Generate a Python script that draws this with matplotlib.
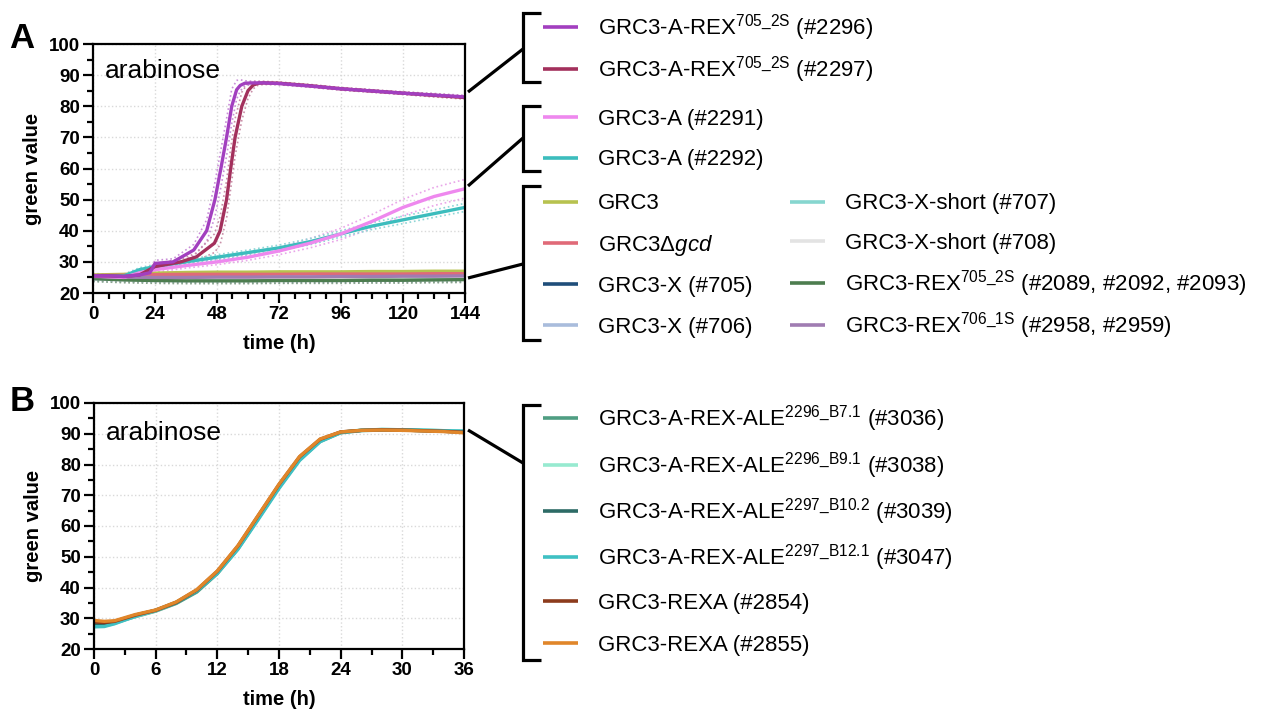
import numpy as np
import matplotlib
matplotlib.use("Agg")
import matplotlib.pyplot as plt
from matplotlib.lines import Line2D
from matplotlib.ticker import MultipleLocator

plt.rcParams['font.family'] = ['Liberation Sans', 'DejaVu Sans']
plt.rcParams['mathtext.fontset'] = 'custom'
plt.rcParams['mathtext.rm'] = 'Liberation Sans'
plt.rcParams['mathtext.it'] = 'Liberation Sans:italic'
plt.rcParams['mathtext.bf'] = 'Liberation Sans:bold'

W, H = 1263, 716

# ---------------- panel A data (time in h, green value) ----------------
t_fast = [0, 6, 12, 18, 22, 24, 31, 39, 44, 47.2, 49.5, 51.7, 53.7, 55.6, 57, 58.8, 62, 66, 72, 84, 96, 108, 120, 132, 144]
a2296 = [25.5, 25.5, 25.3, 25.8, 26.5, 29.5, 30.0, 33.8, 40.0, 50.0, 60.0, 70.0, 80.0, 85.3, 86.7, 87.4, 87.5, 87.5, 87.3, 86.5, 85.6, 84.9, 84.2, 83.6, 83.0]
sd2296 = [0.5, 0.5, 0.5, 0.5, 0.8, 1.0, 1.0, 1.8, 3.5, 5.5, 6.0, 6.0, 5.5, 3.0, 1.8, 0.8, 0.5, 0.4, 0.4, 0.4, 0.4, 0.4, 0.4, 0.5, 0.5]

t_slow = [0, 6, 12, 18, 24, 34, 40, 47, 49.2, 51.7, 53.3, 55, 57.6, 60, 62, 64, 66, 72, 84, 96, 108, 120, 132, 144]
a2297 = [25.5, 25.5, 25.3, 25.8, 28.5, 30.0, 31.6, 36.0, 40.0, 50.0, 60.0, 70.0, 80.0, 85.0, 86.8, 87.4, 87.5, 87.4, 86.6, 85.6, 84.9, 84.2, 83.5, 82.8]
sd2297 = [0.5, 0.5, 0.5, 0.5, 0.8, 0.9, 1.2, 3.0, 4.5, 6.0, 6.5, 6.0, 4.5, 2.5, 1.2, 0.6, 0.5, 0.4, 0.4, 0.4, 0.4, 0.4, 0.5, 0.5]

t_lin = [0, 6, 12, 18, 24, 36, 48, 60, 72, 84, 96, 108, 120, 132, 144]
a2291 = [25.5, 25.2, 25.0, 26.5, 27.5, 28.8, 30.0, 31.5, 33.5, 36.0, 39.0, 43.0, 47.5, 51.0, 53.5]
sd2291 = [0.8, 0.8, 0.8, 0.8, 0.8, 0.8, 0.9, 1.0, 1.2, 1.5, 1.8, 2.2, 2.6, 2.9, 3.0]
a2292 = [25.5, 25.5, 25.5, 27.5, 28.5, 30.0, 31.5, 33.0, 34.5, 36.5, 39.0, 41.5, 43.5, 45.5, 47.5]
sd2292 = [0.6, 0.6, 0.6, 0.6, 0.7, 0.7, 0.8, 0.8, 0.9, 1.0, 1.0, 1.1, 1.2, 1.2, 1.3]

t_flat = [0, 12, 24, 36, 48, 60, 72, 84, 96, 108, 120, 132, 144]
grc3 = [25.8, 26.0, 26.4, 26.6, 26.7, 26.7, 26.8, 26.8, 26.8, 26.9, 26.9, 27.0, 27.0]
grc3_gcd = [25.6, 25.7, 25.9, 26.0, 26.0, 26.0, 26.0, 26.1, 26.1, 26.1, 26.1, 26.2, 26.2]
x705 = [24.8, 24.5, 24.3, 24.2, 24.2, 24.1, 24.1, 24.2, 24.2, 24.3, 24.3, 24.4, 24.5]
x706 = [24.6, 24.4, 24.5, 24.6, 24.5, 24.6, 24.6, 24.7, 24.7, 24.8, 24.8, 24.9, 25.0]
xs707 = [25.2, 25.0, 24.9, 24.8, 24.8, 24.8, 24.9, 24.9, 25.0, 25.0, 25.1, 25.1, 25.2]
xs708 = [25.0, 24.9, 24.8, 24.8, 24.9, 24.9, 25.0, 25.0, 25.0, 25.1, 25.1, 25.2, 25.2]
rex705 = [24.6, 24.2, 24.0, 23.9, 23.9, 23.9, 24.0, 24.0, 24.0, 24.1, 24.1, 24.2, 24.3]
rex706 = [25.3, 25.1, 25.0, 25.0, 25.1, 25.1, 25.2, 25.2, 25.3, 25.3, 25.4, 25.4, 25.5]

# ---------------- panel B data ----------------
tB = [0, 1, 2, 3, 4, 6, 8, 10, 12, 14, 16, 18, 20, 22, 24, 26, 28, 30, 32, 34, 36]
b3036 = [28.0, 27.8, 28.5, 29.5, 30.5, 32.3, 34.8, 38.5, 44.5, 52.5, 62.5, 72.5, 81.5, 87.5, 90.3, 91.0, 91.2, 91.2, 91.0, 90.8, 90.6]
b3038 = [27.5, 27.5, 28.3, 29.5, 30.6, 32.5, 35.0, 38.8, 44.8, 52.8, 62.8, 72.8, 81.8, 87.8, 90.5, 91.2, 91.4, 91.3, 91.2, 91.0, 90.8]
b3039 = [28.3, 28.0, 28.7, 29.8, 31.0, 32.6, 35.0, 38.8, 44.8, 53.0, 63.0, 73.0, 82.0, 88.0, 90.5, 91.1, 91.3, 91.2, 91.0, 90.8, 90.6]
b3047 = [27.2, 27.3, 28.2, 29.4, 30.6, 32.6, 35.2, 38.9, 44.6, 52.4, 62.2, 72.2, 81.3, 87.4, 90.4, 91.1, 91.4, 91.3, 91.2, 91.0, 90.9]
b2854 = [28.8, 28.6, 29.0, 30.0, 31.0, 32.6, 35.2, 39.2, 45.3, 53.5, 63.5, 73.5, 82.5, 88.2, 90.6, 91.1, 91.3, 91.2, 91.0, 90.8, 90.5]
b2855 = [29.3, 29.0, 29.2, 30.2, 31.2, 32.7, 35.3, 39.3, 45.4, 53.6, 63.6, 73.6, 82.6, 88.3, 90.6, 91.1, 91.2, 91.1, 90.9, 90.7, 90.3]

# ---------------- legend labels / colours ----------------
labels_A1 = [r'GRC3-A-REX$^{\mathregular{705\_2S}}$ (#2296)', r'GRC3-A-REX$^{\mathregular{705\_2S}}$ (#2297)']
colors_A1 = ['#a23fbf', '#a3305c']
labels_A2 = ['GRC3-A (#2291)', 'GRC3-A (#2292)']
colors_A2 = ['#ee88ee', '#3cbdbd']
labels_A3a = ['GRC3', r'GRC3Δ$\mathit{gcd}$', 'GRC3-X (#705)', 'GRC3-X (#706)']
colors_A3a = ['#b7c24f', '#e06a78', '#1f4e7a', '#a9bcdc']
labels_A3b = ['GRC3-X-short (#707)', 'GRC3-X-short (#708)',
              r'GRC3-REX$^{\mathregular{705\_2S}}$ (#2089, #2092, #2093)',
              r'GRC3-REX$^{\mathregular{706\_1S}}$ (#2958, #2959)']
colors_A3b = ['#86d6cf', '#e3e3e3', '#4d7d4f', '#a07cb2']
labels_B = [r'GRC3-A-REX-ALE$^{\mathregular{2296\_B7.1}}$ (#3036)',
            r'GRC3-A-REX-ALE$^{\mathregular{2296\_B9.1}}$ (#3038)',
            r'GRC3-A-REX-ALE$^{\mathregular{2297\_B10.2}}$ (#3039)',
            r'GRC3-A-REX-ALE$^{\mathregular{2297\_B12.1}}$ (#3047)',
            'GRC3-REXA (#2854)', 'GRC3-REXA (#2855)']
colors_B = ['#4f9e82', '#97ead0', '#2d6b66', '#3fc0c3', '#8c3b1c', '#e0862a']


def fx(x):
    return x / W


def fy(y):
    return 1 - y / H


fig = plt.figure(figsize=(W / 100, H / 100), dpi=100)
axA = fig.add_axes([fx(93), fy(293), (465 - 93) / W, (293 - 44) / H])
axB = fig.add_axes([fx(94), fy(649), (464 - 94) / W, (649 - 403) / H])


def style(ax, xmax, xmajor, xminor):
    ax.set_xlim(0, xmax)
    ax.set_ylim(20, 100)
    ax.xaxis.set_major_locator(MultipleLocator(xmajor))
    ax.xaxis.set_minor_locator(MultipleLocator(xminor))
    ax.yaxis.set_major_locator(MultipleLocator(10))
    ax.yaxis.set_minor_locator(MultipleLocator(5))
    ax.grid(True, which='major', color='#d9d9d9', linestyle=':', linewidth=1.0)
    ax.set_axisbelow(True)
    for s in ax.spines.values():
        s.set_linewidth(1.6)
    ax.tick_params(which='major', direction='out', length=7.5, width=1.6, pad=2, labelsize=13.5)
    ax.tick_params(which='minor', direction='out', length=4.5, width=1.6)
    for lab in ax.get_xticklabels() + ax.get_yticklabels():
        lab.set_fontweight('bold')
    ax.set_xlabel('time (h)', fontsize=14.5, fontweight='bold', labelpad=8)
    ax.set_ylabel('green value', fontsize=14.5, fontweight='bold', labelpad=5)


style(axA, 144, 24, 6)
style(axB, 36, 6, 3)

# panel A: dotted spread lines then means
for t, m, sd, c in [(t_fast, a2296, sd2296, '#c98fd8'), (t_slow, a2297, sd2297, '#c98fa8'),
                    (t_lin, a2291, sd2291, '#e9a6e9'), (t_lin, a2292, sd2292, '#8fd6d6')]:
    m = np.array(m)
    sd = np.array(sd)
    axA.plot(t, m + sd, ':', color=c, lw=1.2)
    axA.plot(t, m - sd, ':', color=c, lw=1.2)

for vals, c in zip([x705, x706, rex705], ['#7f95ad', '#b9c7de', '#8aa58b']):
    axA.plot(t_flat, np.array(vals) - 0.9, ':', color=c, lw=1.2)

flat_series = [grc3, grc3_gcd, x705, x706, xs707, xs708, rex705, rex706]
flat_colors = colors_A3a + colors_A3b
for vals, c in zip(flat_series, flat_colors):
    axA.plot(t_flat, vals, color=c, lw=2.4)
axA.plot(t_lin, a2292, color=colors_A2[1], lw=2.4)
axA.plot(t_lin, a2291, color=colors_A2[0], lw=2.4)
axA.plot(t_slow, a2297, color=colors_A1[1], lw=2.4)
axA.plot(t_fast, a2296, color=colors_A1[0], lw=2.4)

for vals, c in zip([b3036, b3038, b3039, b3047, b2854, b2855], colors_B):
    axB.plot(tB, vals, color=c, lw=2.4)

for ax, by in [(axA, 0.863), (axB, 0.85)]:
    ax.text(0.032, by, 'arabinose', transform=ax.transAxes, fontsize=19, va='baseline')

fig.text(fx(9), fy(48), 'A', fontsize=25, fontweight='bold', va='baseline')
fig.text(fx(10), fy(411), 'B', fontsize=25, fontweight='bold', va='baseline')


# ---------------- brackets, connectors and legends ----------------
def fline(xs, ys, color='black', lw=2.3):
    fig.add_artist(Line2D([fx(x) for x in xs], [fy(y) for y in ys], color=color,
                          lw=lw, solid_capstyle='butt', solid_joinstyle='miter'))


def bracket(top, bottom):
    fline([541, 523, 523, 541], [top, top, bottom, bottom])


def entry(x_line, x_text, y, label, color):
    fline([x_line, x_line + 35], [y, y], color=color, lw=2.6)
    fig.text(fx(x_text), fy(y + 7.5), label, fontsize=16, va='baseline')


bracket(13, 82)
bracket(106, 171)
bracket(186, 340)
bracket(405, 660)
fline([468, 523], [92, 49])
fline([468, 523], [186, 138])
fline([468, 523], [278, 264])
fline([468, 523], [430, 463])

for y, lab, c in zip([27, 69], labels_A1, colors_A1):
    entry(543, 598, y, lab, c)
for y, lab, c in zip([117, 158], labels_A2, colors_A2):
    entry(543, 598, y, lab, c)
for y, lab, c in zip([202, 243, 284, 325], labels_A3a, colors_A3a):
    entry(543, 598, y, lab, c)
for y, lab, c in zip([202, 241, 283, 325], labels_A3b, colors_A3b):
    entry(790, 845, y, lab, c)
for y, lab, c in zip([418, 465, 511, 557, 601, 643], labels_B, colors_B):
    entry(543, 598, y, lab, c)

fig.savefig('out.png', dpi=100)
